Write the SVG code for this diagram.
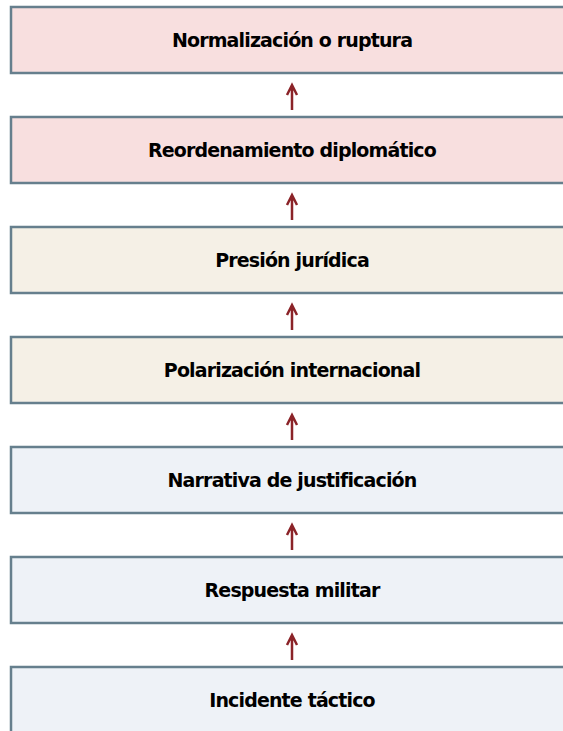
<svg xmlns="http://www.w3.org/2000/svg" width="563" height="731" viewBox="0 0 563 731">
<defs>
<style>
.box{stroke:#667f8d;stroke-width:2.5}
.red{fill:#f8dfdf}.tan{fill:#f5f0e6}.blue{fill:#eef2f7}
.lbl{font-family:"DejaVu Sans",sans-serif;font-weight:bold;font-size:19px;letter-spacing:-0.85px;fill:#000;text-anchor:middle}
.conn{stroke:#8b2328;stroke-width:2.5;fill:none}
</style>
</defs>
<g id="n7"><rect class="box red" x="11" y="7" width="560" height="66"/><text class="lbl" x="292" y="47">Normalización o ruptura</text></g>
<g id="n6"><rect class="box red" x="11" y="117" width="560" height="66"/><text class="lbl" x="292" y="157">Reordenamiento diplomático</text></g>
<g id="n5"><rect class="box tan" x="11" y="227" width="560" height="66"/><text class="lbl" x="292" y="267">Presión jurídica</text></g>
<g id="n4"><rect class="box tan" x="11" y="337" width="560" height="66"/><text class="lbl" x="292" y="377">Polarización internacional</text></g>
<g id="n3"><rect class="box blue" x="11" y="447" width="560" height="66"/><text class="lbl" x="292" y="487">Narrativa de justificación</text></g>
<g id="n2"><rect class="box blue" x="11" y="557" width="560" height="66"/><text class="lbl" x="292" y="597">Respuesta militar</text></g>
<g id="n1"><rect class="box blue" x="11" y="667" width="560" height="66"/><text class="lbl" x="292" y="707">Incidente táctico</text></g>
<g id="connectors">
<path class="conn" d="M292 110V85M287 95L292 85L297 95"/>
<path class="conn" d="M292 220V195M287 205L292 195L297 205"/>
<path class="conn" d="M292 330V305M287 315L292 305L297 315"/>
<path class="conn" d="M292 440V415M287 425L292 415L297 425"/>
<path class="conn" d="M292 550V525M287 535L292 525L297 535"/>
<path class="conn" d="M292 660V635M287 645L292 635L297 645"/>
</g>
</svg>
